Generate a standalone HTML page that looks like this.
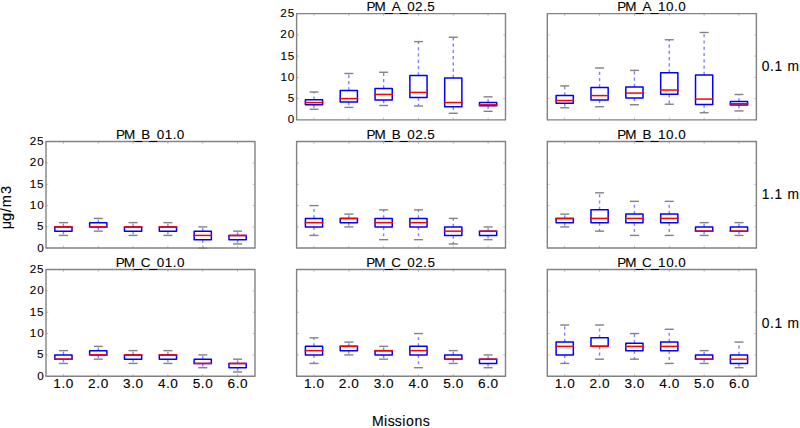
<!DOCTYPE html>
<html><head><meta charset="utf-8"><style>
html,body{margin:0;padding:0;background:#fff;overflow:hidden}
svg{display:block}
text{font-family:"Liberation Sans",sans-serif;fill:#000;stroke:#000;stroke-width:0.1px}
.ti{font-size:13.46px}
.yl{font-size:11.7px}
.xl{font-size:13.6px}
.rl{font-size:13.8px}
.yt{font-size:14.6px}
.xt{font-size:14.1px}
.w{stroke:#8282ff;stroke-width:1.4;stroke-dasharray:3.13 3.13;fill:none}
.c{stroke:#828282;stroke-width:1.4}
.b{stroke:#0000ff;stroke-width:1.5;fill:none;stroke-linejoin:round}
.m{stroke:#ff0000;stroke-width:1.5;stroke-linecap:square}
.t{stroke:#c0c0c0;stroke-width:1.0;fill:none}
.s{stroke:#828282;stroke-width:1.4;fill:none;stroke-linejoin:round}
</style></head><body>
<svg width="800" height="428" viewBox="0 0 800 428">
<rect width="800" height="428" fill="#fff"/>
<line x1="314.01" y1="99.75" x2="314.01" y2="92" class="w"/>
<line x1="314.01" y1="104.75" x2="314.01" y2="109.25" class="w"/>
<line x1="309.51" y1="92" x2="318.51" y2="92" class="c"/>
<line x1="309.51" y1="109.25" x2="318.51" y2="109.25" class="c"/>
<rect x="305.41" y="99.75" width="17.2" height="5" class="b"/>
<line x1="305.41" y1="102.6" x2="322.61" y2="102.6" class="m"/>
<line x1="348.83" y1="90.4" x2="348.83" y2="73.5" class="w"/>
<line x1="348.83" y1="102" x2="348.83" y2="107.4" class="w"/>
<line x1="344.33" y1="73.5" x2="353.33" y2="73.5" class="c"/>
<line x1="344.33" y1="107.4" x2="353.33" y2="107.4" class="c"/>
<rect x="340.23" y="90.4" width="17.2" height="11.6" class="b"/>
<line x1="340.23" y1="98.6" x2="357.43" y2="98.6" class="m"/>
<line x1="383.64" y1="88.5" x2="383.64" y2="72.25" class="w"/>
<line x1="383.64" y1="100" x2="383.64" y2="105.5" class="w"/>
<line x1="379.14" y1="72.25" x2="388.14" y2="72.25" class="c"/>
<line x1="379.14" y1="105.5" x2="388.14" y2="105.5" class="c"/>
<rect x="375.04" y="88.5" width="17.2" height="11.5" class="b"/>
<line x1="375.04" y1="94.4" x2="392.24" y2="94.4" class="m"/>
<line x1="418.46" y1="75.4" x2="418.46" y2="41.6" class="w"/>
<line x1="418.46" y1="97.6" x2="418.46" y2="106" class="w"/>
<line x1="413.96" y1="41.6" x2="422.96" y2="41.6" class="c"/>
<line x1="413.96" y1="106" x2="422.96" y2="106" class="c"/>
<rect x="409.86" y="75.4" width="17.2" height="22.2" class="b"/>
<line x1="409.86" y1="92.4" x2="427.06" y2="92.4" class="m"/>
<line x1="453.27" y1="78" x2="453.27" y2="37.25" class="w"/>
<line x1="453.27" y1="106.75" x2="453.27" y2="113.25" class="w"/>
<line x1="448.77" y1="37.25" x2="457.77" y2="37.25" class="c"/>
<line x1="448.77" y1="113.25" x2="457.77" y2="113.25" class="c"/>
<rect x="444.67" y="78" width="17.2" height="28.75" class="b"/>
<line x1="444.67" y1="102.5" x2="461.88" y2="102.5" class="m"/>
<line x1="488.09" y1="102.45" x2="488.09" y2="96.85" class="w"/>
<line x1="488.09" y1="105.8" x2="488.09" y2="111.3" class="w"/>
<line x1="483.59" y1="96.85" x2="492.59" y2="96.85" class="c"/>
<line x1="483.59" y1="111.3" x2="492.59" y2="111.3" class="c"/>
<rect x="479.49" y="102.45" width="17.2" height="3.35" class="b"/>
<line x1="479.49" y1="104.8" x2="496.69" y2="104.8" class="m"/>
<path d="M314.01 13.6v2.3M314.01 119.85v-2.3" class="t"/>
<path d="M348.83 13.6v2.3M348.83 119.85v-2.3" class="t"/>
<path d="M383.64 13.6v2.3M383.64 119.85v-2.3" class="t"/>
<path d="M418.46 13.6v2.3M418.46 119.85v-2.3" class="t"/>
<path d="M453.27 13.6v2.3M453.27 119.85v-2.3" class="t"/>
<path d="M488.09 13.6v2.3M488.09 119.85v-2.3" class="t"/>
<path d="M296.6 119.85h2.3M505.5 119.85h-2.3" class="t"/>
<path d="M296.6 98.6h2.3M505.5 98.6h-2.3" class="t"/>
<path d="M296.6 77.35h2.3M505.5 77.35h-2.3" class="t"/>
<path d="M296.6 56.1h2.3M505.5 56.1h-2.3" class="t"/>
<path d="M296.6 34.85h2.3M505.5 34.85h-2.3" class="t"/>
<path d="M296.6 13.6h2.3M505.5 13.6h-2.3" class="t"/>
<rect x="296.6" y="13.6" width="208.9" height="106.25" class="s"/>
<text x="366.46 374.44 384.98 391.73 400.02 407.21 415.12 423.22 427.36" y="10.75" class="ti">PM_A_02.5</text>
<text x="287.73" y="123.35" class="yl">0</text>
<text x="287.69" y="102.1" class="yl">5</text>
<text x="280.45 287.73" y="80.85" class="yl">10</text>
<text x="280.45 287.69" y="59.6" class="yl">15</text>
<text x="280.36 287.73" y="38.35" class="yl">20</text>
<text x="280.36 287.69" y="17.1" class="yl">25</text>
<line x1="564.72" y1="95.6" x2="564.72" y2="85.9" class="w"/>
<line x1="564.72" y1="103.25" x2="564.72" y2="107.75" class="w"/>
<line x1="560.22" y1="85.9" x2="569.22" y2="85.9" class="c"/>
<line x1="560.22" y1="107.75" x2="569.22" y2="107.75" class="c"/>
<rect x="556.12" y="95.6" width="17.2" height="7.65" class="b"/>
<line x1="556.12" y1="100.5" x2="573.32" y2="100.5" class="m"/>
<line x1="599.57" y1="87.4" x2="599.57" y2="68" class="w"/>
<line x1="599.57" y1="100.1" x2="599.57" y2="106.75" class="w"/>
<line x1="595.07" y1="68" x2="604.07" y2="68" class="c"/>
<line x1="595.07" y1="106.75" x2="604.07" y2="106.75" class="c"/>
<rect x="590.97" y="87.4" width="17.2" height="12.7" class="b"/>
<line x1="590.97" y1="95.6" x2="608.17" y2="95.6" class="m"/>
<line x1="634.42" y1="87" x2="634.42" y2="70.4" class="w"/>
<line x1="634.42" y1="97.9" x2="634.42" y2="104.75" class="w"/>
<line x1="629.92" y1="70.4" x2="638.92" y2="70.4" class="c"/>
<line x1="629.92" y1="104.75" x2="638.92" y2="104.75" class="c"/>
<rect x="625.82" y="87" width="17.2" height="10.9" class="b"/>
<line x1="625.82" y1="93.1" x2="643.02" y2="93.1" class="m"/>
<line x1="669.27" y1="72.75" x2="669.27" y2="39.75" class="w"/>
<line x1="669.27" y1="94.25" x2="669.27" y2="104.25" class="w"/>
<line x1="664.77" y1="39.75" x2="673.77" y2="39.75" class="c"/>
<line x1="664.77" y1="104.25" x2="673.77" y2="104.25" class="c"/>
<rect x="660.67" y="72.75" width="17.2" height="21.5" class="b"/>
<line x1="660.67" y1="90" x2="677.88" y2="90" class="m"/>
<line x1="704.12" y1="74.9" x2="704.12" y2="32.5" class="w"/>
<line x1="704.12" y1="104.5" x2="704.12" y2="112.75" class="w"/>
<line x1="699.62" y1="32.5" x2="708.62" y2="32.5" class="c"/>
<line x1="699.62" y1="112.75" x2="708.62" y2="112.75" class="c"/>
<rect x="695.52" y="74.9" width="17.2" height="29.6" class="b"/>
<line x1="695.52" y1="99.1" x2="712.73" y2="99.1" class="m"/>
<line x1="738.98" y1="101.5" x2="738.98" y2="94.5" class="w"/>
<line x1="738.98" y1="105.1" x2="738.98" y2="110.95" class="w"/>
<line x1="734.48" y1="94.5" x2="743.48" y2="94.5" class="c"/>
<line x1="734.48" y1="110.95" x2="743.48" y2="110.95" class="c"/>
<rect x="730.38" y="101.5" width="17.2" height="3.6" class="b"/>
<line x1="730.38" y1="103.75" x2="747.58" y2="103.75" class="m"/>
<path d="M564.72 13.6v2.3M564.72 119.85v-2.3" class="t"/>
<path d="M599.57 13.6v2.3M599.57 119.85v-2.3" class="t"/>
<path d="M634.42 13.6v2.3M634.42 119.85v-2.3" class="t"/>
<path d="M669.27 13.6v2.3M669.27 119.85v-2.3" class="t"/>
<path d="M704.12 13.6v2.3M704.12 119.85v-2.3" class="t"/>
<path d="M738.98 13.6v2.3M738.98 119.85v-2.3" class="t"/>
<path d="M547.3 119.85h2.3M756.4 119.85h-2.3" class="t"/>
<path d="M547.3 98.6h2.3M756.4 98.6h-2.3" class="t"/>
<path d="M547.3 77.35h2.3M756.4 77.35h-2.3" class="t"/>
<path d="M547.3 56.1h2.3M756.4 56.1h-2.3" class="t"/>
<path d="M547.3 34.85h2.3M756.4 34.85h-2.3" class="t"/>
<path d="M547.3 13.6h2.3M756.4 13.6h-2.3" class="t"/>
<rect x="547.3" y="13.6" width="209.1" height="106.25" class="s"/>
<text x="617.26 625.24 635.78 642.53 650.82 657.94 666.09 674.02 678.2" y="10.75" class="ti">PM_A_10.0</text>
<line x1="63.42" y1="226.9" x2="63.42" y2="222.64" class="w"/>
<line x1="63.42" y1="231.16" x2="63.42" y2="235.42" class="w"/>
<line x1="58.92" y1="222.64" x2="67.92" y2="222.64" class="c"/>
<line x1="58.92" y1="235.42" x2="67.92" y2="235.42" class="c"/>
<rect x="54.82" y="226.9" width="17.2" height="4.26" class="b"/>
<line x1="54.82" y1="226.9" x2="72.02" y2="226.9" class="m"/>
<line x1="98.25" y1="222.64" x2="98.25" y2="218.38" class="w"/>
<line x1="98.25" y1="226.9" x2="98.25" y2="231.16" class="w"/>
<line x1="93.75" y1="218.38" x2="102.75" y2="218.38" class="c"/>
<line x1="93.75" y1="231.16" x2="102.75" y2="231.16" class="c"/>
<rect x="89.65" y="222.64" width="17.2" height="4.26" class="b"/>
<line x1="89.65" y1="226.9" x2="106.85" y2="226.9" class="m"/>
<line x1="133.08" y1="226.9" x2="133.08" y2="222.64" class="w"/>
<line x1="133.08" y1="231.16" x2="133.08" y2="235.42" class="w"/>
<line x1="128.58" y1="222.64" x2="137.58" y2="222.64" class="c"/>
<line x1="128.58" y1="235.42" x2="137.58" y2="235.42" class="c"/>
<rect x="124.48" y="226.9" width="17.2" height="4.26" class="b"/>
<line x1="124.48" y1="226.9" x2="141.68" y2="226.9" class="m"/>
<line x1="167.92" y1="226.9" x2="167.92" y2="222.64" class="w"/>
<line x1="167.92" y1="231.16" x2="167.92" y2="235.42" class="w"/>
<line x1="163.42" y1="222.64" x2="172.42" y2="222.64" class="c"/>
<line x1="163.42" y1="235.42" x2="172.42" y2="235.42" class="c"/>
<rect x="159.32" y="226.9" width="17.2" height="4.26" class="b"/>
<line x1="159.32" y1="226.9" x2="176.52" y2="226.9" class="m"/>
<line x1="202.75" y1="231.16" x2="202.75" y2="226.9" class="w"/>
<line x1="202.75" y1="239.68" x2="202.75" y2="248.2" class="w"/>
<line x1="198.25" y1="226.9" x2="207.25" y2="226.9" class="c"/>
<line x1="198.25" y1="248.2" x2="207.25" y2="248.2" class="c"/>
<rect x="194.15" y="231.16" width="17.2" height="8.52" class="b"/>
<line x1="194.15" y1="235.42" x2="211.35" y2="235.42" class="m"/>
<line x1="237.58" y1="235.42" x2="237.58" y2="231.16" class="w"/>
<line x1="237.58" y1="239.68" x2="237.58" y2="243.94" class="w"/>
<line x1="233.08" y1="231.16" x2="242.08" y2="231.16" class="c"/>
<line x1="233.08" y1="243.94" x2="242.08" y2="243.94" class="c"/>
<rect x="228.98" y="235.42" width="17.2" height="4.26" class="b"/>
<line x1="228.98" y1="235.42" x2="246.18" y2="235.42" class="m"/>
<path d="M63.42 141.55v2.3M63.42 248v-2.3" class="t"/>
<path d="M98.25 141.55v2.3M98.25 248v-2.3" class="t"/>
<path d="M133.08 141.55v2.3M133.08 248v-2.3" class="t"/>
<path d="M167.92 141.55v2.3M167.92 248v-2.3" class="t"/>
<path d="M202.75 141.55v2.3M202.75 248v-2.3" class="t"/>
<path d="M237.58 141.55v2.3M237.58 248v-2.3" class="t"/>
<path d="M46 248.2h2.3M255 248.2h-2.3" class="t"/>
<path d="M46 226.9h2.3M255 226.9h-2.3" class="t"/>
<path d="M46 205.6h2.3M255 205.6h-2.3" class="t"/>
<path d="M46 184.3h2.3M255 184.3h-2.3" class="t"/>
<path d="M46 163h2.3M255 163h-2.3" class="t"/>
<path d="M46 141.7h2.3M255 141.7h-2.3" class="t"/>
<rect x="46" y="141.55" width="209" height="106.45" class="s"/>
<text x="115.9 123.88 134.42 141.16 149.48 156.67 164.68 172.68 176.87" y="138.7" class="ti">PM_B_01.0</text>
<text x="37.13" y="251.5" class="yl">0</text>
<text x="37.09" y="230.2" class="yl">5</text>
<text x="29.85 37.13" y="208.9" class="yl">10</text>
<text x="29.85 37.09" y="187.6" class="yl">15</text>
<text x="29.76 37.13" y="166.3" class="yl">20</text>
<text x="29.76 37.09" y="145" class="yl">25</text>
<line x1="314.01" y1="218.38" x2="314.01" y2="205.6" class="w"/>
<line x1="314.01" y1="226.9" x2="314.01" y2="235.42" class="w"/>
<line x1="309.51" y1="205.6" x2="318.51" y2="205.6" class="c"/>
<line x1="309.51" y1="235.42" x2="318.51" y2="235.42" class="c"/>
<rect x="305.41" y="218.38" width="17.2" height="8.52" class="b"/>
<line x1="305.41" y1="222.64" x2="322.61" y2="222.64" class="m"/>
<line x1="348.83" y1="218.38" x2="348.83" y2="214.12" class="w"/>
<line x1="348.83" y1="222.64" x2="348.83" y2="226.9" class="w"/>
<line x1="344.33" y1="214.12" x2="353.33" y2="214.12" class="c"/>
<line x1="344.33" y1="226.9" x2="353.33" y2="226.9" class="c"/>
<rect x="340.23" y="218.38" width="17.2" height="4.26" class="b"/>
<line x1="340.23" y1="218.38" x2="357.43" y2="218.38" class="m"/>
<line x1="383.64" y1="218.38" x2="383.64" y2="209.86" class="w"/>
<line x1="383.64" y1="226.9" x2="383.64" y2="239.68" class="w"/>
<line x1="379.14" y1="209.86" x2="388.14" y2="209.86" class="c"/>
<line x1="379.14" y1="239.68" x2="388.14" y2="239.68" class="c"/>
<rect x="375.04" y="218.38" width="17.2" height="8.52" class="b"/>
<line x1="375.04" y1="222.64" x2="392.24" y2="222.64" class="m"/>
<line x1="418.46" y1="218.38" x2="418.46" y2="209.86" class="w"/>
<line x1="418.46" y1="226.9" x2="418.46" y2="239.68" class="w"/>
<line x1="413.96" y1="209.86" x2="422.96" y2="209.86" class="c"/>
<line x1="413.96" y1="239.68" x2="422.96" y2="239.68" class="c"/>
<rect x="409.86" y="218.38" width="17.2" height="8.52" class="b"/>
<line x1="409.86" y1="222.64" x2="427.06" y2="222.64" class="m"/>
<line x1="453.27" y1="226.9" x2="453.27" y2="218.38" class="w"/>
<line x1="453.27" y1="235.42" x2="453.27" y2="243.94" class="w"/>
<line x1="448.77" y1="218.38" x2="457.77" y2="218.38" class="c"/>
<line x1="448.77" y1="243.94" x2="457.77" y2="243.94" class="c"/>
<rect x="444.67" y="226.9" width="17.2" height="8.52" class="b"/>
<line x1="444.67" y1="231.16" x2="461.88" y2="231.16" class="m"/>
<line x1="488.09" y1="231.16" x2="488.09" y2="226.9" class="w"/>
<line x1="488.09" y1="235.42" x2="488.09" y2="239.68" class="w"/>
<line x1="483.59" y1="226.9" x2="492.59" y2="226.9" class="c"/>
<line x1="483.59" y1="239.68" x2="492.59" y2="239.68" class="c"/>
<rect x="479.49" y="231.16" width="17.2" height="4.26" class="b"/>
<line x1="479.49" y1="231.16" x2="496.69" y2="231.16" class="m"/>
<path d="M314.01 141.55v2.3M314.01 248v-2.3" class="t"/>
<path d="M348.83 141.55v2.3M348.83 248v-2.3" class="t"/>
<path d="M383.64 141.55v2.3M383.64 248v-2.3" class="t"/>
<path d="M418.46 141.55v2.3M418.46 248v-2.3" class="t"/>
<path d="M453.27 141.55v2.3M453.27 248v-2.3" class="t"/>
<path d="M488.09 141.55v2.3M488.09 248v-2.3" class="t"/>
<path d="M296.6 248.2h2.3M505.5 248.2h-2.3" class="t"/>
<path d="M296.6 226.9h2.3M505.5 226.9h-2.3" class="t"/>
<path d="M296.6 205.6h2.3M505.5 205.6h-2.3" class="t"/>
<path d="M296.6 184.3h2.3M505.5 184.3h-2.3" class="t"/>
<path d="M296.6 163h2.3M505.5 163h-2.3" class="t"/>
<path d="M296.6 141.7h2.3M505.5 141.7h-2.3" class="t"/>
<rect x="296.6" y="141.55" width="208.9" height="106.45" class="s"/>
<text x="366.45 374.43 384.97 391.71 400.03 407.22 415.13 423.23 427.37" y="138.7" class="ti">PM_B_02.5</text>
<line x1="564.72" y1="218.38" x2="564.72" y2="214.12" class="w"/>
<line x1="564.72" y1="222.64" x2="564.72" y2="226.9" class="w"/>
<line x1="560.22" y1="214.12" x2="569.22" y2="214.12" class="c"/>
<line x1="560.22" y1="226.9" x2="569.22" y2="226.9" class="c"/>
<rect x="556.12" y="218.38" width="17.2" height="4.26" class="b"/>
<line x1="556.12" y1="218.38" x2="573.32" y2="218.38" class="m"/>
<line x1="599.57" y1="209.86" x2="599.57" y2="192.82" class="w"/>
<line x1="599.57" y1="222.64" x2="599.57" y2="231.16" class="w"/>
<line x1="595.07" y1="192.82" x2="604.07" y2="192.82" class="c"/>
<line x1="595.07" y1="231.16" x2="604.07" y2="231.16" class="c"/>
<rect x="590.97" y="209.86" width="17.2" height="12.78" class="b"/>
<line x1="590.97" y1="218.38" x2="608.17" y2="218.38" class="m"/>
<line x1="634.42" y1="214.12" x2="634.42" y2="201.34" class="w"/>
<line x1="634.42" y1="222.64" x2="634.42" y2="235.42" class="w"/>
<line x1="629.92" y1="201.34" x2="638.92" y2="201.34" class="c"/>
<line x1="629.92" y1="235.42" x2="638.92" y2="235.42" class="c"/>
<rect x="625.82" y="214.12" width="17.2" height="8.52" class="b"/>
<line x1="625.82" y1="218.38" x2="643.02" y2="218.38" class="m"/>
<line x1="669.27" y1="214.12" x2="669.27" y2="201.34" class="w"/>
<line x1="669.27" y1="222.64" x2="669.27" y2="235.42" class="w"/>
<line x1="664.77" y1="201.34" x2="673.77" y2="201.34" class="c"/>
<line x1="664.77" y1="235.42" x2="673.77" y2="235.42" class="c"/>
<rect x="660.67" y="214.12" width="17.2" height="8.52" class="b"/>
<line x1="660.67" y1="218.38" x2="677.88" y2="218.38" class="m"/>
<line x1="704.12" y1="226.9" x2="704.12" y2="222.64" class="w"/>
<line x1="704.12" y1="231.16" x2="704.12" y2="235.42" class="w"/>
<line x1="699.62" y1="222.64" x2="708.62" y2="222.64" class="c"/>
<line x1="699.62" y1="235.42" x2="708.62" y2="235.42" class="c"/>
<rect x="695.52" y="226.9" width="17.2" height="4.26" class="b"/>
<line x1="695.52" y1="231.16" x2="712.73" y2="231.16" class="m"/>
<line x1="738.98" y1="226.9" x2="738.98" y2="222.64" class="w"/>
<line x1="738.98" y1="231.16" x2="738.98" y2="235.42" class="w"/>
<line x1="734.48" y1="222.64" x2="743.48" y2="222.64" class="c"/>
<line x1="734.48" y1="235.42" x2="743.48" y2="235.42" class="c"/>
<rect x="730.38" y="226.9" width="17.2" height="4.26" class="b"/>
<line x1="730.38" y1="231.16" x2="747.58" y2="231.16" class="m"/>
<path d="M564.72 141.55v2.3M564.72 248v-2.3" class="t"/>
<path d="M599.57 141.55v2.3M599.57 248v-2.3" class="t"/>
<path d="M634.42 141.55v2.3M634.42 248v-2.3" class="t"/>
<path d="M669.27 141.55v2.3M669.27 248v-2.3" class="t"/>
<path d="M704.12 141.55v2.3M704.12 248v-2.3" class="t"/>
<path d="M738.98 141.55v2.3M738.98 248v-2.3" class="t"/>
<path d="M547.3 248.2h2.3M756.4 248.2h-2.3" class="t"/>
<path d="M547.3 226.9h2.3M756.4 226.9h-2.3" class="t"/>
<path d="M547.3 205.6h2.3M756.4 205.6h-2.3" class="t"/>
<path d="M547.3 184.3h2.3M756.4 184.3h-2.3" class="t"/>
<path d="M547.3 163h2.3M756.4 163h-2.3" class="t"/>
<path d="M547.3 141.7h2.3M756.4 141.7h-2.3" class="t"/>
<rect x="547.3" y="141.55" width="209.1" height="106.45" class="s"/>
<text x="617.25 625.23 635.77 642.51 650.83 657.95 666.1 674.03 678.22" y="138.7" class="ti">PM_B_10.0</text>
<line x1="63.42" y1="354.9" x2="63.42" y2="350.63" class="w"/>
<line x1="63.42" y1="359.17" x2="63.42" y2="363.44" class="w"/>
<line x1="58.92" y1="350.63" x2="67.92" y2="350.63" class="c"/>
<line x1="58.92" y1="363.44" x2="67.92" y2="363.44" class="c"/>
<rect x="54.82" y="354.9" width="17.2" height="4.27" class="b"/>
<line x1="54.82" y1="359.17" x2="72.02" y2="359.17" class="m"/>
<line x1="98.25" y1="350.63" x2="98.25" y2="346.36" class="w"/>
<line x1="98.25" y1="354.9" x2="98.25" y2="359.17" class="w"/>
<line x1="93.75" y1="346.36" x2="102.75" y2="346.36" class="c"/>
<line x1="93.75" y1="359.17" x2="102.75" y2="359.17" class="c"/>
<rect x="89.65" y="350.63" width="17.2" height="4.27" class="b"/>
<line x1="89.65" y1="354.9" x2="106.85" y2="354.9" class="m"/>
<line x1="133.08" y1="354.9" x2="133.08" y2="350.63" class="w"/>
<line x1="133.08" y1="359.17" x2="133.08" y2="363.44" class="w"/>
<line x1="128.58" y1="350.63" x2="137.58" y2="350.63" class="c"/>
<line x1="128.58" y1="363.44" x2="137.58" y2="363.44" class="c"/>
<rect x="124.48" y="354.9" width="17.2" height="4.27" class="b"/>
<line x1="124.48" y1="354.9" x2="141.68" y2="354.9" class="m"/>
<line x1="167.92" y1="354.9" x2="167.92" y2="350.63" class="w"/>
<line x1="167.92" y1="359.17" x2="167.92" y2="363.44" class="w"/>
<line x1="163.42" y1="350.63" x2="172.42" y2="350.63" class="c"/>
<line x1="163.42" y1="363.44" x2="172.42" y2="363.44" class="c"/>
<rect x="159.32" y="354.9" width="17.2" height="4.27" class="b"/>
<line x1="159.32" y1="354.9" x2="176.52" y2="354.9" class="m"/>
<line x1="202.75" y1="359.17" x2="202.75" y2="354.9" class="w"/>
<line x1="202.75" y1="363.44" x2="202.75" y2="367.71" class="w"/>
<line x1="198.25" y1="354.9" x2="207.25" y2="354.9" class="c"/>
<line x1="198.25" y1="367.71" x2="207.25" y2="367.71" class="c"/>
<rect x="194.15" y="359.17" width="17.2" height="4.27" class="b"/>
<line x1="194.15" y1="363.44" x2="211.35" y2="363.44" class="m"/>
<line x1="237.58" y1="363.44" x2="237.58" y2="359.17" class="w"/>
<line x1="237.58" y1="367.71" x2="237.58" y2="371.98" class="w"/>
<line x1="233.08" y1="359.17" x2="242.08" y2="359.17" class="c"/>
<line x1="233.08" y1="371.98" x2="242.08" y2="371.98" class="c"/>
<rect x="228.98" y="363.44" width="17.2" height="4.27" class="b"/>
<line x1="228.98" y1="363.44" x2="246.18" y2="363.44" class="m"/>
<path d="M63.42 269.5v2.3M63.42 376.25v-2.3" class="t"/>
<path d="M98.25 269.5v2.3M98.25 376.25v-2.3" class="t"/>
<path d="M133.08 269.5v2.3M133.08 376.25v-2.3" class="t"/>
<path d="M167.92 269.5v2.3M167.92 376.25v-2.3" class="t"/>
<path d="M202.75 269.5v2.3M202.75 376.25v-2.3" class="t"/>
<path d="M237.58 269.5v2.3M237.58 376.25v-2.3" class="t"/>
<path d="M46 376.25h2.3M255 376.25h-2.3" class="t"/>
<path d="M46 354.9h2.3M255 354.9h-2.3" class="t"/>
<path d="M46 333.55h2.3M255 333.55h-2.3" class="t"/>
<path d="M46 312.2h2.3M255 312.2h-2.3" class="t"/>
<path d="M46 290.85h2.3M255 290.85h-2.3" class="t"/>
<path d="M46 269.5h2.3M255 269.5h-2.3" class="t"/>
<rect x="46" y="269.5" width="209" height="106.75" class="s"/>
<text x="115.82 123.8 134.34 140.74 149.56 156.75 164.76 172.76 176.94" y="266.65" class="ti">PM_C_01.0</text>
<text x="37.13" y="379.55" class="yl">0</text>
<text x="37.09" y="358.2" class="yl">5</text>
<text x="29.85 37.13" y="336.85" class="yl">10</text>
<text x="29.85 37.09" y="315.5" class="yl">15</text>
<text x="29.76 37.13" y="294.15" class="yl">20</text>
<text x="29.76 37.09" y="272.8" class="yl">25</text>
<text x="53.36 61.52 65.83" y="388.1" class="xl">1.0</text>
<text x="88.09 96.35 100.67" y="388.1" class="xl">2.0</text>
<text x="123.11 131.19 135.5" y="388.1" class="xl">3.0</text>
<text x="157.93 166.02 170.33" y="388.1" class="xl">4.0</text>
<text x="192.71 200.85 205.17" y="388.1" class="xl">5.0</text>
<text x="227.6 235.69 240" y="388.1" class="xl">6.0</text>
<line x1="314.01" y1="346.36" x2="314.01" y2="337.82" class="w"/>
<line x1="314.01" y1="354.9" x2="314.01" y2="363.44" class="w"/>
<line x1="309.51" y1="337.82" x2="318.51" y2="337.82" class="c"/>
<line x1="309.51" y1="363.44" x2="318.51" y2="363.44" class="c"/>
<rect x="305.41" y="346.36" width="17.2" height="8.54" class="b"/>
<line x1="305.41" y1="350.63" x2="322.61" y2="350.63" class="m"/>
<line x1="348.83" y1="346.36" x2="348.83" y2="342.09" class="w"/>
<line x1="348.83" y1="350.63" x2="348.83" y2="354.9" class="w"/>
<line x1="344.33" y1="342.09" x2="353.33" y2="342.09" class="c"/>
<line x1="344.33" y1="354.9" x2="353.33" y2="354.9" class="c"/>
<rect x="340.23" y="346.36" width="17.2" height="4.27" class="b"/>
<line x1="340.23" y1="346.36" x2="357.43" y2="346.36" class="m"/>
<line x1="383.64" y1="350.63" x2="383.64" y2="346.36" class="w"/>
<line x1="383.64" y1="354.9" x2="383.64" y2="359.17" class="w"/>
<line x1="379.14" y1="346.36" x2="388.14" y2="346.36" class="c"/>
<line x1="379.14" y1="359.17" x2="388.14" y2="359.17" class="c"/>
<rect x="375.04" y="350.63" width="17.2" height="4.27" class="b"/>
<line x1="375.04" y1="350.63" x2="392.24" y2="350.63" class="m"/>
<line x1="418.46" y1="346.36" x2="418.46" y2="333.55" class="w"/>
<line x1="418.46" y1="354.9" x2="418.46" y2="367.71" class="w"/>
<line x1="413.96" y1="333.55" x2="422.96" y2="333.55" class="c"/>
<line x1="413.96" y1="367.71" x2="422.96" y2="367.71" class="c"/>
<rect x="409.86" y="346.36" width="17.2" height="8.54" class="b"/>
<line x1="409.86" y1="350.63" x2="427.06" y2="350.63" class="m"/>
<line x1="453.27" y1="354.9" x2="453.27" y2="350.63" class="w"/>
<line x1="453.27" y1="359.17" x2="453.27" y2="363.44" class="w"/>
<line x1="448.77" y1="350.63" x2="457.77" y2="350.63" class="c"/>
<line x1="448.77" y1="363.44" x2="457.77" y2="363.44" class="c"/>
<rect x="444.67" y="354.9" width="17.2" height="4.27" class="b"/>
<line x1="444.67" y1="359.17" x2="461.88" y2="359.17" class="m"/>
<line x1="488.09" y1="359.17" x2="488.09" y2="354.9" class="w"/>
<line x1="488.09" y1="363.44" x2="488.09" y2="367.71" class="w"/>
<line x1="483.59" y1="354.9" x2="492.59" y2="354.9" class="c"/>
<line x1="483.59" y1="367.71" x2="492.59" y2="367.71" class="c"/>
<rect x="479.49" y="359.17" width="17.2" height="4.27" class="b"/>
<line x1="479.49" y1="359.17" x2="496.69" y2="359.17" class="m"/>
<path d="M314.01 269.5v2.3M314.01 376.25v-2.3" class="t"/>
<path d="M348.83 269.5v2.3M348.83 376.25v-2.3" class="t"/>
<path d="M383.64 269.5v2.3M383.64 376.25v-2.3" class="t"/>
<path d="M418.46 269.5v2.3M418.46 376.25v-2.3" class="t"/>
<path d="M453.27 269.5v2.3M453.27 376.25v-2.3" class="t"/>
<path d="M488.09 269.5v2.3M488.09 376.25v-2.3" class="t"/>
<path d="M296.6 376.25h2.3M505.5 376.25h-2.3" class="t"/>
<path d="M296.6 354.9h2.3M505.5 354.9h-2.3" class="t"/>
<path d="M296.6 333.55h2.3M505.5 333.55h-2.3" class="t"/>
<path d="M296.6 312.2h2.3M505.5 312.2h-2.3" class="t"/>
<path d="M296.6 290.85h2.3M505.5 290.85h-2.3" class="t"/>
<path d="M296.6 269.5h2.3M505.5 269.5h-2.3" class="t"/>
<rect x="296.6" y="269.5" width="208.9" height="106.75" class="s"/>
<text x="366.37 374.35 384.89 391.29 400.11 407.3 415.21 423.31 427.45" y="266.65" class="ti">PM_C_02.5</text>
<text x="303.95 312.11 316.42" y="388.1" class="xl">1.0</text>
<text x="338.67 346.93 351.24" y="388.1" class="xl">2.0</text>
<text x="373.67 381.75 386.06" y="388.1" class="xl">3.0</text>
<text x="408.47 416.56 420.87" y="388.1" class="xl">4.0</text>
<text x="443.24 451.38 455.69" y="388.1" class="xl">5.0</text>
<text x="478.11 486.2 490.51" y="388.1" class="xl">6.0</text>
<line x1="564.72" y1="342.09" x2="564.72" y2="325.01" class="w"/>
<line x1="564.72" y1="354.9" x2="564.72" y2="363.44" class="w"/>
<line x1="560.22" y1="325.01" x2="569.22" y2="325.01" class="c"/>
<line x1="560.22" y1="363.44" x2="569.22" y2="363.44" class="c"/>
<rect x="556.12" y="342.09" width="17.2" height="12.81" class="b"/>
<line x1="556.12" y1="346.36" x2="573.32" y2="346.36" class="m"/>
<line x1="599.57" y1="337.82" x2="599.57" y2="325.01" class="w"/>
<line x1="599.57" y1="346.36" x2="599.57" y2="359.17" class="w"/>
<line x1="595.07" y1="325.01" x2="604.07" y2="325.01" class="c"/>
<line x1="595.07" y1="359.17" x2="604.07" y2="359.17" class="c"/>
<rect x="590.97" y="337.82" width="17.2" height="8.54" class="b"/>
<line x1="590.97" y1="346.36" x2="608.17" y2="346.36" class="m"/>
<line x1="634.42" y1="343.16" x2="634.42" y2="333.55" class="w"/>
<line x1="634.42" y1="350.63" x2="634.42" y2="359.17" class="w"/>
<line x1="629.92" y1="333.55" x2="638.92" y2="333.55" class="c"/>
<line x1="629.92" y1="359.17" x2="638.92" y2="359.17" class="c"/>
<rect x="625.82" y="343.16" width="17.2" height="7.47" class="b"/>
<line x1="625.82" y1="346.36" x2="643.02" y2="346.36" class="m"/>
<line x1="669.27" y1="342.09" x2="669.27" y2="329.28" class="w"/>
<line x1="669.27" y1="350.63" x2="669.27" y2="363.44" class="w"/>
<line x1="664.77" y1="329.28" x2="673.77" y2="329.28" class="c"/>
<line x1="664.77" y1="363.44" x2="673.77" y2="363.44" class="c"/>
<rect x="660.67" y="342.09" width="17.2" height="8.54" class="b"/>
<line x1="660.67" y1="346.36" x2="677.88" y2="346.36" class="m"/>
<line x1="704.12" y1="354.9" x2="704.12" y2="350.63" class="w"/>
<line x1="704.12" y1="359.17" x2="704.12" y2="363.44" class="w"/>
<line x1="699.62" y1="350.63" x2="708.62" y2="350.63" class="c"/>
<line x1="699.62" y1="363.44" x2="708.62" y2="363.44" class="c"/>
<rect x="695.52" y="354.9" width="17.2" height="4.27" class="b"/>
<line x1="695.52" y1="359.17" x2="712.73" y2="359.17" class="m"/>
<line x1="738.98" y1="354.9" x2="738.98" y2="342.09" class="w"/>
<line x1="738.98" y1="363.44" x2="738.98" y2="367.71" class="w"/>
<line x1="734.48" y1="342.09" x2="743.48" y2="342.09" class="c"/>
<line x1="734.48" y1="367.71" x2="743.48" y2="367.71" class="c"/>
<rect x="730.38" y="354.9" width="17.2" height="8.54" class="b"/>
<line x1="730.38" y1="359.17" x2="747.58" y2="359.17" class="m"/>
<path d="M564.72 269.5v2.3M564.72 376.25v-2.3" class="t"/>
<path d="M599.57 269.5v2.3M599.57 376.25v-2.3" class="t"/>
<path d="M634.42 269.5v2.3M634.42 376.25v-2.3" class="t"/>
<path d="M669.27 269.5v2.3M669.27 376.25v-2.3" class="t"/>
<path d="M704.12 269.5v2.3M704.12 376.25v-2.3" class="t"/>
<path d="M738.98 269.5v2.3M738.98 376.25v-2.3" class="t"/>
<path d="M547.3 376.25h2.3M756.4 376.25h-2.3" class="t"/>
<path d="M547.3 354.9h2.3M756.4 354.9h-2.3" class="t"/>
<path d="M547.3 333.55h2.3M756.4 333.55h-2.3" class="t"/>
<path d="M547.3 312.2h2.3M756.4 312.2h-2.3" class="t"/>
<path d="M547.3 290.85h2.3M756.4 290.85h-2.3" class="t"/>
<path d="M547.3 269.5h2.3M756.4 269.5h-2.3" class="t"/>
<rect x="547.3" y="269.5" width="209.1" height="106.75" class="s"/>
<text x="617.17 625.15 635.69 642.09 650.91 658.03 666.18 674.11 678.29" y="266.65" class="ti">PM_C_10.0</text>
<text x="554.67 562.83 567.14" y="388.1" class="xl">1.0</text>
<text x="589.42 597.68 601.99" y="388.1" class="xl">2.0</text>
<text x="624.46 632.53 636.84" y="388.1" class="xl">3.0</text>
<text x="659.29 667.38 671.69" y="388.1" class="xl">4.0</text>
<text x="694.09 702.23 706.54" y="388.1" class="xl">5.0</text>
<text x="728.99 737.08 741.39" y="388.1" class="xl">6.0</text>
<text x="761.86 770.07 774.38 782.67 787.41" y="70.6" class="rl">0.1 m</text>
<text x="761.79 770.07 774.38 782.67 787.41" y="198.8" class="rl">1.1 m</text>
<text x="761.86 770.07 774.38 782.67 787.41" y="327.6" class="rl">0.1 m</text>
<g transform="translate(11.1,228.8) rotate(-90)"><text x="-0.54 7.81 16.61 21.61 34.69" y="0" class="yt">μg/m3</text></g>
<text x="371.99 384.11 387.71 394.85 402.19 405.93 414.49 422.86" y="425.7" class="xt">Missions</text>
</svg>
</body></html>
